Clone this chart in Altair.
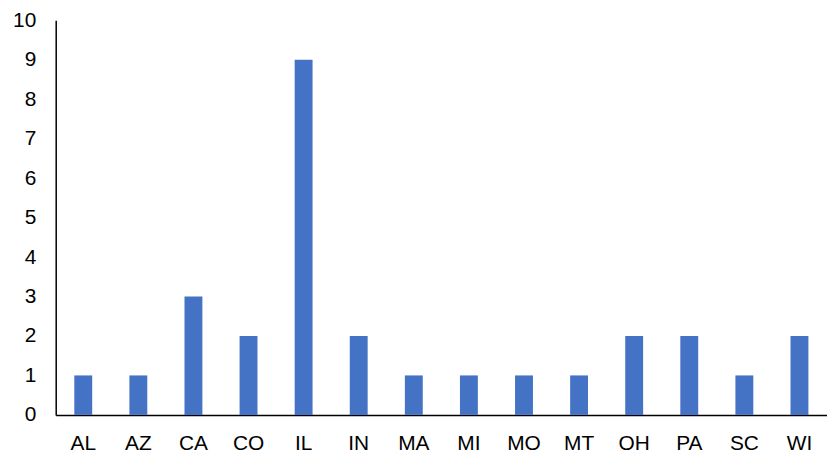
import altair as alt
import pandas as pd

states = ["AL", "AZ", "CA", "CO", "IL", "IN", "MA", "MI", "MO", "MT", "OH", "PA", "SC", "WI"]
counts = [1, 1, 3, 2, 9, 2, 1, 1, 1, 1, 2, 2, 1, 2]

df = pd.DataFrame({"state": states, "count": counts})

chart = alt.Chart(df).mark_bar(size=18, color="#4472C4").encode(
    x=alt.X("state:N", sort=states, title=None,
            scale=alt.Scale(paddingInner=0.6, paddingOuter=0.3),
            axis=alt.Axis(labelAngle=0, ticks=False, domainColor="#000", domainWidth=1.5,
                          labelFont="Liberation Sans", labelFontSize=21, labelColor="#000",
                          labelPadding=18, grid=False)),
    y=alt.Y("count:Q", title=None,
            scale=alt.Scale(domain=[0, 10], nice=False),
            axis=alt.Axis(values=list(range(0, 11)), ticks=False, domainColor="#000", domainWidth=1.5,
                          labelFont="Liberation Sans", labelFontSize=21, labelColor="#000",
                          labelPadding=20, grid=False)),
).properties(
    width=776, height=397,
    autosize=alt.AutoSizeParams(type="none"),
    padding={"left": 48, "top": 11, "right": 0, "bottom": 40},
).configure_view(stroke=None)

chart.save("out.html", embed_options={"renderer": "svg", "actions": False})
